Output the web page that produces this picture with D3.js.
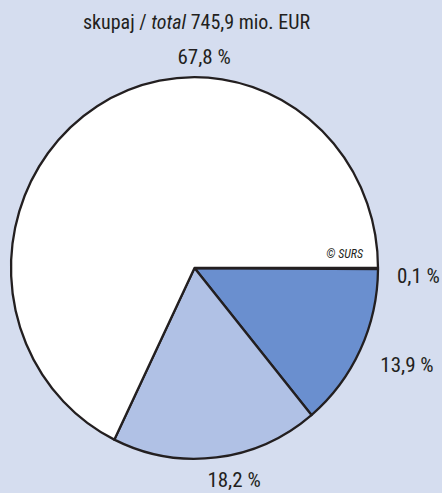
<!DOCTYPE html>
<html><head><meta charset="utf-8">
<script src="https://cdn.jsdelivr.net/npm/d3@7"></script>
<style>
html,body{margin:0;padding:0;background:#d5ddef;}
svg{display:block;}
text{font-family:"Liberation Sans Narrow","Roboto Condensed","Liberation Sans",sans-serif;fill:#231f20;}
</style></head>
<body>
<svg id="chart" width="442" height="493"></svg>
<script>
// Data
const categories = ["a", "b", "c", "d"];
const shares = [0.1, 13.9, 18.2, 67.8];
const labels = ["0,1 %", "13,9 %", "18,2 %", "67,8 %"];
const titleParts = ["skupaj / ", "total", " 745,9 mio. EUR"];
const source = "© SURS";

// Layout / style
const colors = ["#231f20", "#6a8fcf", "#b0c1e5", "#ffffff"];
const labelAngleDeg = [91.8, 114.5, 169.4, 2.6];
const labelRadius = [224, 233.5, 215, 212];
const W = 442, H = 493, cx = 194.5, cy = 268, R = 183.5, sy = 1.04;

const svg = d3.select("#chart");
svg.append("rect").attr("width", W).attr("height", H).attr("fill", "#d5ddef");

const pie = d3.pie().sort(null).value(d => d).startAngle(Math.PI / 2).endAngle(Math.PI / 2 + 2 * Math.PI);
const arcs = pie(shares);
const arc = d3.arc().innerRadius(0).outerRadius(R);

const g = svg.append("g").attr("transform", `translate(${cx},${cy}) scale(1,${sy})`);
g.selectAll("path").data(arcs).join("path")
  .attr("d", arc)
  .attr("fill", (d, i) => colors[i])
  .attr("stroke", "#231f20")
  .attr("stroke-width", 2.3)
  .attr("vector-effect", "non-scaling-stroke")
  .attr("stroke-linejoin", "round");

// labels
const lg = svg.append("g").attr("transform", `translate(${cx},${cy})`);
lg.selectAll("text.lbl").data(arcs).join("text")
  .attr("class", "lbl")
  .attr("x", (d, i) => labelRadius[i] * Math.sin(labelAngleDeg[i] * Math.PI / 180))
  .attr("y", (d, i) => -labelRadius[i] * Math.cos(labelAngleDeg[i] * Math.PI / 180))
  .attr("dy", "0.36em")
  .attr("text-anchor", "middle")
  .attr("font-size", 21)
  .text((d, i) => labels[i]);

// source
svg.append("text")
  .attr("x", 363).attr("y", 257.5)
  .attr("text-anchor", "end")
  .attr("font-size", 12)
  .attr("font-style", "italic")
  .attr("font-family", "Liberation Sans, sans-serif")
  .text(source);

// title
const t = svg.append("text").attr("x", 196.5).attr("y", 29)
  .attr("text-anchor", "middle").attr("font-size", 20);
t.append("tspan").text(titleParts[0]);
t.append("tspan").attr("font-style", "italic").text(titleParts[1]);
t.append("tspan").text(titleParts[2]);
</script>
</body></html>
